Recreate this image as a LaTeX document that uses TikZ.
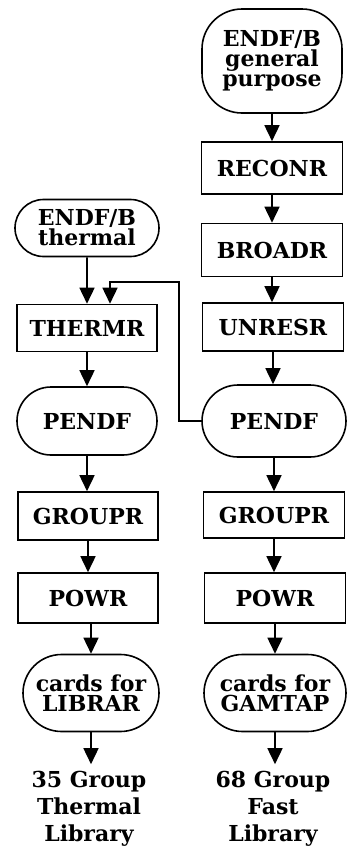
\documentclass[tikz,border=0pt]{standalone}
\usepackage{fontspec}
\setmainfont{DejaVu Serif}
\usetikzlibrary{arrows,arrows.meta,shapes.misc}

\begin{document}
\begin{tikzpicture}[x=1pt,y=-1pt,
  every node/.style={font=\bfseries\fontsize{22}{20}\selectfont, align=center, inner sep=0pt},
  box/.style={draw, line width=1.6pt, minimum width=141pt, minimum height=49pt},
  tape/.style={draw, line width=1.6pt, rounded rectangle, minimum width=142pt},
  flow/.style={line width=1.6pt, -{Triangle[length=16pt,width=15pt]}}]
  \useasboundingbox (0,0) rectangle (347,849);

  % fast chain
  \node[draw, line width=1.6pt, rounded corners=40pt, minimum width=140pt, minimum height=104pt] (general) at (272,61) {ENDF/B\\general\\purpose};
  \node[box, minimum height=52pt] (reconrR) at (272,168) {RECONR};
  \node[box, minimum height=53pt] (broadrR) at (272,250) {BROADR};
  \node[box, minimum height=48pt] (unresrR) at (273,327) {UNRESR};
  \node[tape, minimum height=72pt, minimum width=144pt] (pendfR) at (274,421) {PENDF};
  \node[box, minimum height=46pt] (grouprR) at (274,515) {GROUPR};
  \node[box, minimum height=50pt] (powrR) at (275,598) {POWR};
  \node[tape, minimum height=77pt] (cardsR) at (275,693) {cards for\\GAMTAP};
  \node[font=\bfseries\fontsize{22}{27}\selectfont] (fastlib) at (273,809) {68 Group\\Fast\\Library};

  % thermal chain
  \node[tape, minimum height=57pt, minimum width=144pt] (thermal) at (87,228) {ENDF/B\\thermal};
  \node[box, minimum height=47pt, minimum width=140pt] (thermr) at (87,328) {THERMR};
  \node[tape, minimum height=68pt, minimum width=140pt] (pendfL) at (87,421) {PENDF};
  \node[box, minimum height=48pt, minimum width=140pt] (grouprL) at (88,516) {GROUPR};
  \node[box, minimum height=50pt, minimum width=140pt] (powrL) at (88,598) {POWR};
  \node[tape, minimum height=77pt, minimum width=136pt] (cardsL) at (91,693) {cards for\\LIBRAR};
  \node[font=\bfseries\fontsize{22}{27}\selectfont] (thermlib) at (89,809) {35 Group\\Thermal\\Library};

  \draw[flow] (general) -- (reconrR);
  \draw[flow] (reconrR) -- (broadrR);
  \draw[flow] (broadrR.south) -- (unresrR.north -| broadrR.south);
  \draw[flow] (unresrR.south) -- (pendfR.north -| unresrR.south);
  \draw[flow] (pendfR) -- (grouprR);
  \draw[flow] (grouprR.south) -- (powrR.north -| grouprR.south);
  \draw[flow] (powrR) -- (cardsR);
  \draw[flow, shorten >=7pt] (cardsR.south) -- (fastlib.north -| cardsR.south);

  \draw[flow] (thermal) -- (thermr);
  \coordinate (turn) at (179,282);
  \draw[flow] (pendfR.west) -| (turn) -| ([xshift=23pt]thermr.north);
  \draw[flow] (thermr) -- (pendfL);
  \draw[flow] (pendfL.south) -- (grouprL.north -| pendfL.south);
  \draw[flow] (grouprL) -- (powrL);
  \draw[flow] (powrL.south -| cardsL) -- (cardsL);
  \draw[flow, shorten >=7pt] (cardsL.south) -- (thermlib.north -| cardsL.south);
\end{tikzpicture}
\end{document}
